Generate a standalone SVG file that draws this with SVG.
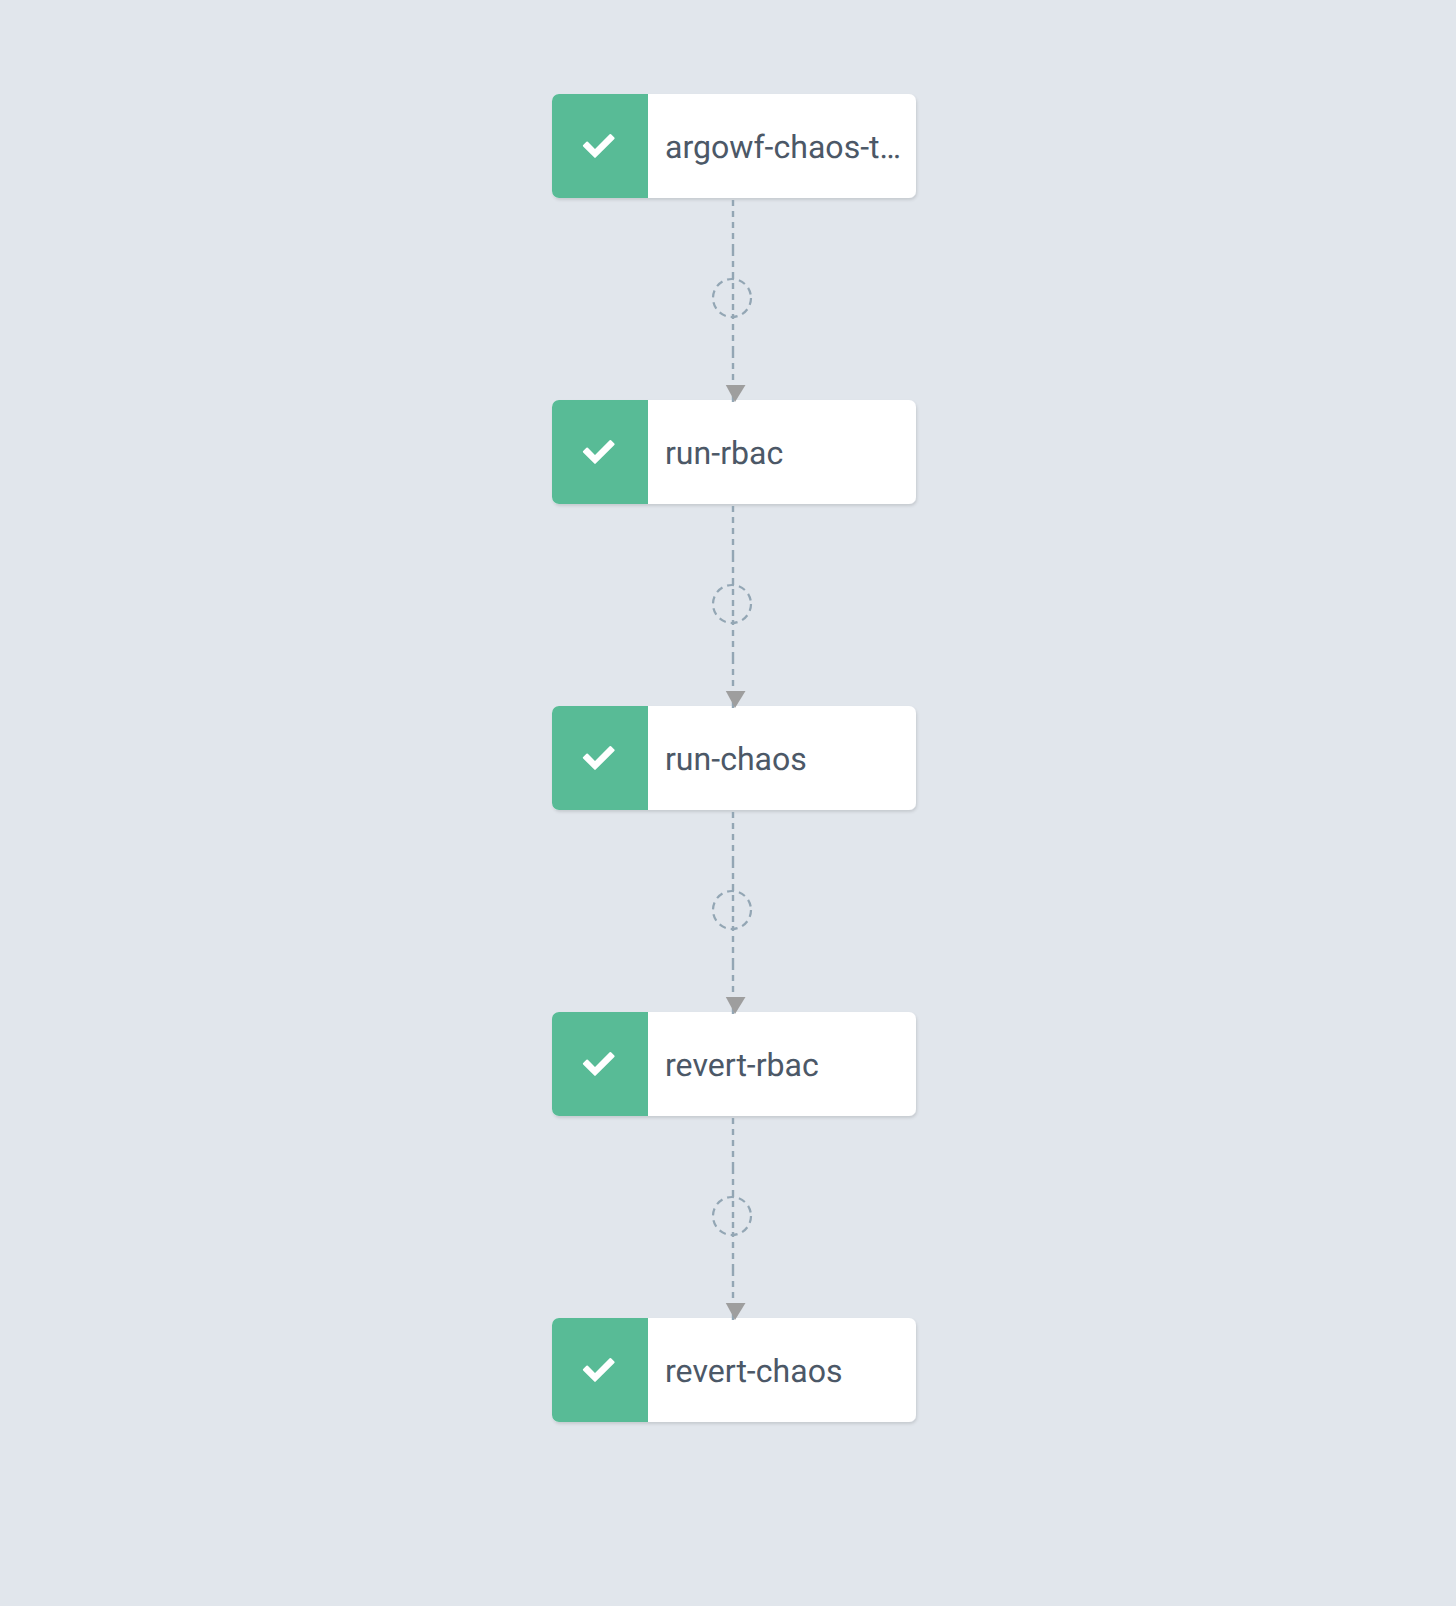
<svg xmlns="http://www.w3.org/2000/svg" width="1456" height="1606" viewBox="0 0 1456 1606">
<defs>
<style>
.card{fill:#fff;filter:url(#sh)}
.bar{fill:#58bb96}
.chk{fill:#fff;stroke:#fff;stroke-width:2;stroke-linejoin:round}
.lbl{font-family:Roboto,"Liberation Sans",sans-serif;font-size:32.1px;fill:#4c5867;text-rendering:geometricPrecision}
.ln{stroke:#93a6b4;stroke-width:2.4;stroke-dasharray:6 5 6 5 6 5 6 5 12 5 6 5 7 4 6 5 6 4 6 4 5 5 6 5 6 5 12 5 6 5 6 5 6 5 6 100;fill:none}
.cr{stroke:#93a6b4;stroke-width:2.2;stroke-dasharray:7 5;fill:none}
.ah{fill:#9e9e9e}
</style>
<filter id="sh" x="-5%" y="-10%" width="110%" height="125%"><feDropShadow dx="1" dy="2" stdDeviation="1.5" flood-color="#000" flood-opacity="0.12"/></filter>
<g id="tick"><path class="chk" d="M587.13 142.47L595 150.35L610.37 134.97L613.63 138.23L595 156.85L583.87 145.73Z"/></g>
<g id="conn"><path class="ln" d="M733 200V402"/><circle class="cr" cx="732" cy="298" r="19"/><path class="ah" d="M725.8 385H745.5L735 402Z"/></g>
</defs>
<rect width="1456" height="1606" fill="#e1e6ec"/>
<g id="n1"><rect class="card" x="552" y="94" width="364" height="104" rx="7"/><path class="bar" d="M648 94H559a7 7 0 0 0-7 7V191a7 7 0 0 0 7 7H648Z"/><use href="#tick"/><text class="lbl" x="665" y="158">argowf-chaos-t…</text></g>
<g id="n2"><rect class="card" x="552" y="400" width="364" height="104" rx="7"/><path class="bar" d="M648 400H559a7 7 0 0 0-7 7V497a7 7 0 0 0 7 7H648Z"/><use href="#tick" y="306"/><text class="lbl" x="665" y="464">run-rbac</text></g>
<g id="n3"><rect class="card" x="552" y="706" width="364" height="104" rx="7"/><path class="bar" d="M648 706H559a7 7 0 0 0-7 7V803a7 7 0 0 0 7 7H648Z"/><use href="#tick" y="612"/><text class="lbl" x="665" y="770">run-chaos</text></g>
<g id="n4"><rect class="card" x="552" y="1012" width="364" height="104" rx="7"/><path class="bar" d="M648 1012H559a7 7 0 0 0-7 7V1109a7 7 0 0 0 7 7H648Z"/><use href="#tick" y="918"/><text class="lbl" x="665" y="1076">revert-rbac</text></g>
<g id="n5"><rect class="card" x="552" y="1318" width="364" height="104" rx="7"/><path class="bar" d="M648 1318H559a7 7 0 0 0-7 7V1415a7 7 0 0 0 7 7H648Z"/><use href="#tick" y="1224"/><text class="lbl" x="665" y="1382">revert-chaos</text></g>
<g id="connectors">
<use id="c1" href="#conn"/>
<use id="c2" href="#conn" y="306"/>
<use id="c3" href="#conn" y="612"/>
<use id="c4" href="#conn" y="918"/>
</g>
</svg>
